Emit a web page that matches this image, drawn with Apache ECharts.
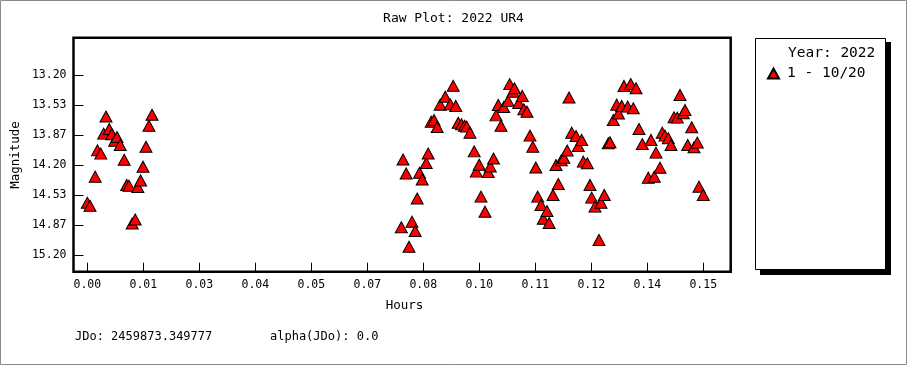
<!DOCTYPE html>
<html>
<head>
<meta charset="utf-8">
<script src="https://cdn.jsdelivr.net/npm/echarts@6/dist/echarts.min.js"></script>
<style>
html,body{margin:0;padding:0;background:#fff;}
#chart{width:907px;height:365px;}
</style>
</head>
<body>
<div id="chart"></div>
<script>
// ---- data ----
const hours = [
  0.0000, 0.00066, 0.00194, 0.00250, 0.00331, 0.00403, 0.00459, 0.00538, 0.00602, 0.00670,
  0.00729, 0.00808, 0.00906, 0.00967, 0.01024, 0.01102, 0.01176, 0.01240, 0.01309, 0.01368,
  0.01441, 0.01513, 0.01589,
  0.07710, 0.07752, 0.07830, 0.07899, 0.07973, 0.08051, 0.08100, 0.08157, 0.08223, 0.08321,
  0.08370, 0.08444, 0.08513, 0.08591, 0.08665, 0.08788, 0.08911, 0.08984, 0.09048, 0.09107,
  0.09188, 0.09262, 0.09316, 0.09397, 0.09500, 0.09551, 0.09623, 0.09667, 0.09765, 0.09844,
  0.09895, 0.09974, 0.10035, 0.10092, 0.10158, 0.10224, 0.10330, 0.10372, 0.10453, 0.10489,
  0.10593, 0.10681, 0.10718, 0.10796, 0.10870, 0.10939, 0.11012, 0.11059, 0.11140, 0.11196,
  0.11287, 0.11341, 0.11435, 0.11508, 0.11565, 0.11638, 0.11700, 0.11783, 0.11828, 0.11894,
  0.12000, 0.12056, 0.12139, 0.12179, 0.12277, 0.12343, 0.12385, 0.12466, 0.12564, 0.12613,
  0.12694, 0.12792, 0.12834, 0.12915, 0.12999, 0.13043, 0.13122, 0.13178, 0.13269, 0.13343,
  0.13406, 0.13473, 0.13546, 0.13627, 0.13775, 0.13841, 0.13922, 0.13964, 0.14062, 0.14118,
  0.14185, 0.14266, 0.14332, 0.14406, 0.14487, 0.14553, 0.14634, 0.14676, 0.14742, 0.14840,
  0.14897, 0.14978, 0.15020, 0.15125
];
const magnitude = [
  14.620, 14.653, 14.330, 14.038, 14.074, 13.852, 13.661, 13.800, 13.858, 13.931,
  13.889, 13.978, 14.142, 14.422, 14.430, 14.851, 14.806, 14.444, 14.372, 14.219,
  13.998, 13.764, 13.643,
  14.892, 14.139, 14.294, 15.109, 14.830, 14.933, 14.573, 14.286, 14.362, 14.178,
  14.073, 13.719, 13.700, 13.778, 13.530, 13.442, 13.526, 13.321, 13.544, 13.731,
  13.748, 13.764, 13.774, 13.841, 14.049, 14.274, 14.197, 14.552, 14.719, 14.278,
  14.216, 14.128, 13.649, 13.533, 13.764, 13.556, 13.488, 13.302, 13.386, 13.348,
  13.511, 13.433, 13.581, 13.608, 13.874, 13.997, 14.228, 14.552, 14.644, 14.797,
  14.711, 14.844, 14.533, 14.200, 14.411, 14.148, 14.119, 14.039, 13.450, 13.841,
  13.878, 13.989, 13.922, 14.163, 14.181, 14.422, 14.563, 14.663, 15.033, 14.619,
  14.533, 13.959, 13.948, 13.700, 13.530, 13.629, 13.544, 13.322, 13.552, 13.300,
  13.570, 13.348, 13.800, 13.967, 14.341, 13.922, 14.330, 14.063, 14.230, 13.841,
  13.874, 13.903, 13.978, 13.670, 13.674, 13.422, 13.626, 13.589, 13.978, 13.781,
  14.003, 13.952, 14.441, 14.533
];
// tick values and their printed labels
const xTickValues = [0, 0.01375, 0.0275, 0.04125, 0.055, 0.06875, 0.0825, 0.09625, 0.11, 0.12375, 0.1375, 0.15125];
const xTickLabels = ['0.00','0.01','0.03','0.04','0.05','0.07','0.08','0.10','0.11','0.12','0.14','0.15'];
const yTickValues = [13.2, 13.5333, 13.8667, 14.2, 14.5333, 14.8667, 15.2];
const yTickLabels = ['13.20','13.53','13.87','14.20','14.53','14.87','15.20'];
// axis ranges (plot frame edges)
const xRange = [-0.00339, 0.15798];
const yRange = [12.786, 15.386];

const seriesName = '1 - 10/20';
const legendTitle = 'Year: 2022';
const titleText = 'Raw Plot: 2022 UR4';
const xName = 'Hours';
const yName = 'Magnitude';
const footer1 = 'JDo: 2459873.349777';
const footer2 = 'alpha(JDo): 0.0';

const FONT = '"DejaVu Sans Mono", "Liberation Mono", monospace';
const points = hours.map((h, i) => [h, magnitude[i]]);
const labelFor = (vals, labs) => v => {
  let best = -1, bd = Infinity;
  vals.forEach((t, i) => { const d = Math.abs(t - v); if (d < bd) { bd = d; best = i; } });
  return bd < 1e-3 ? labs[best] : '';
};

const chart = echarts.init(document.getElementById('chart'), null, {renderer: 'canvas'});
chart.setOption({
  animation: false,
  backgroundColor: '#fff',
  title: {
    text: titleText, left: 'center', top: 12, padding: 0,
    textStyle: {fontFamily: FONT, fontSize: 13, fontWeight: 'normal', color: '#000'}
  },
  grid: {left: 73.5, right: 176.3, top: 37.7, bottom: 93.3, containLabel: false,
    show: true, borderColor: '#000', borderWidth: 2.5, backgroundColor: 'transparent'},
  xAxis: {
    type: 'value', min: xRange[0], max: xRange[1], position: 'bottom',
    axisLine: {show: false, onZero: false},
    axisTick: {show: true, inside: true, length: 9, customValues: xTickValues, lineStyle: {color: '#000', width: 1}},
    splitLine: {show: false},
    axisLabel: {
      margin: 7, color: '#000', fontFamily: FONT, fontSize: 11.5,
      customValues: xTickValues,
      formatter: labelFor(xTickValues, xTickLabels)
    }
  },
  yAxis: {
    type: 'value', inverse: true, min: yRange[0], max: yRange[1], position: 'left',
    axisLine: {show: false, onZero: false},
    axisTick: {show: true, inside: true, length: 10, customValues: yTickValues, lineStyle: {color: '#000', width: 1}},
    splitLine: {show: false},
    axisLabel: {
      margin: 7, color: '#000', fontFamily: FONT, fontSize: 11.5,
      customValues: yTickValues,
      formatter: labelFor(yTickValues, yTickLabels)
    }
  },
  legend: {
    show: true, data: [{name: seriesName, icon: 'triangle'}],
    left: 767, top: 66, orient: 'vertical', z: 100, padding: 0,
    itemWidth: 11, itemHeight: 10, itemGap: 4,
    selectedMode: false,
    textStyle: {fontFamily: FONT, fontSize: 14.5, color: '#000', padding: [0, 0, 0, 3]}
  },
  graphic: [
    {type: 'rect', z: 0, silent: true, shape: {x: 0.5, y: 0.5, width: 906, height: 364},
      style: {fill: 'none', stroke: '#8a8a8a', lineWidth: 1}},
    {type: 'rect', z: 1, silent: true, shape: {x: 760, y: 42, width: 131, height: 233},
      style: {fill: '#000', stroke: 'none'}},
    {type: 'rect', z: 2, silent: true, shape: {x: 755.5, y: 38.5, width: 130, height: 231},
      style: {fill: '#fff', stroke: '#000', lineWidth: 1}},
    {type: 'text', z: 3, silent: true, style: {x: 788, y: 53, text: legendTitle, fontFamily: FONT, fontSize: 14.5,
      fill: '#000', verticalAlign: 'middle', align: 'left'}},
    {type: 'text', z: 3, silent: true, x: 404.5, y: 306, style: {x: 0, y: 0, text: xName, fontFamily: FONT, fontSize: 12.5,
      fill: '#000', verticalAlign: 'middle', align: 'center'}},
    {type: 'text', z: 3, silent: true, x: 16, y: 155, rotation: Math.PI / 2,
      style: {x: 0, y: 0, text: yName, fontFamily: FONT, fontSize: 12.5,
      fill: '#000', verticalAlign: 'middle', align: 'center'}},
    {type: 'text', z: 3, silent: true, style: {x: 75, y: 337, text: footer1, fontFamily: FONT, fontSize: 12,
      fill: '#000', verticalAlign: 'middle', align: 'left'}},
    {type: 'text', z: 3, silent: true, style: {x: 270, y: 337, text: footer2, fontFamily: FONT, fontSize: 12,
      fill: '#000', verticalAlign: 'middle', align: 'left'}}
  ],
  series: [{
    name: seriesName, type: 'scatter', data: points, clip: false, z: 10,
    symbol: 'triangle', symbolSize: [12, 11],
    itemStyle: {color: '#ff0000', borderColor: '#000', borderWidth: 1, opacity: 1}
  }]
});
</script>
</body>
</html>
